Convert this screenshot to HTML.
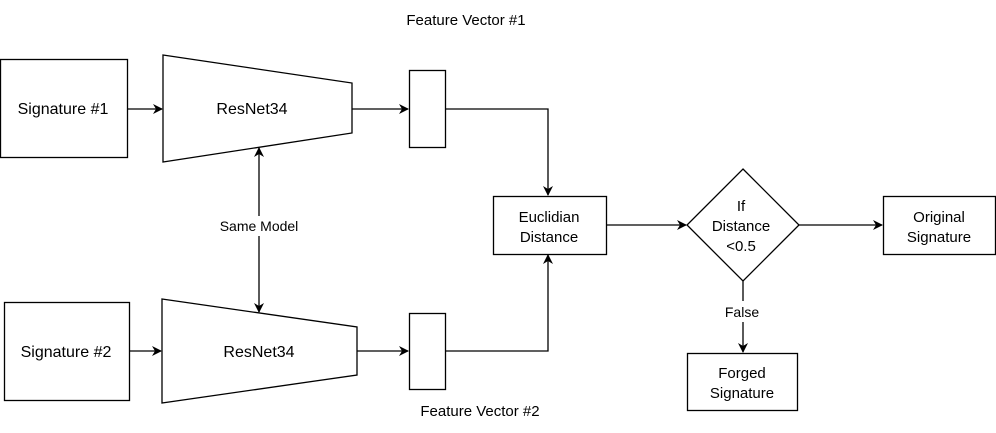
<!DOCTYPE html>
<html><head><style>
body{margin:0;background:#fff;}
svg{display:block;font-family:"Liberation Sans",Arial,sans-serif;font-size:15px;}
</style></head><body>
<svg width="996" height="433" viewBox="0 0 996 433">
<defs><marker id="a" markerWidth="10" markerHeight="10" refX="9" refY="5" orient="auto" markerUnits="userSpaceOnUse"><path d="M0,0 L10,5 L0,10 L3,5 Z" fill="#000"/></marker></defs>
<g fill="#fff" stroke="#000" stroke-width="1.3">
<rect x="0.5" y="59.5" width="127" height="98"/>
<polygon points="163,55 352,83 352,133 163,162"/>
<rect x="409.5" y="70.5" width="36" height="77"/>
<rect x="4.5" y="302.5" width="125" height="98"/>
<polygon points="162,299 357,327 357,375 162,403"/>
<rect x="409.5" y="313.5" width="36" height="76"/>
<rect x="493.5" y="196.5" width="113" height="58"/>
<polygon points="743,169 799,225 743,281 687,225"/>
<rect x="883.5" y="196.5" width="112" height="58"/>
<rect x="687.5" y="353.5" width="110" height="57"/>
</g>
<g stroke="#000" stroke-width="1.3" fill="none" marker-end="url(#a)">
<line x1="127" y1="109" x2="162" y2="109"/>
<line x1="352" y1="109" x2="408" y2="109"/>
<line x1="130" y1="351" x2="161" y2="351"/>
<line x1="357" y1="351" x2="408" y2="351"/>
<polyline points="446,109 548,109 548,195"/>
<polyline points="446,351 548,351 548,255"/>
<line x1="607" y1="225" x2="686" y2="225"/>
<line x1="799" y1="225" x2="882" y2="225"/>
<polyline points="259,216 259,148"/>
<polyline points="259,236 259,312"/>
<polyline points="743,322 743,352"/>
</g>
<line x1="743" y1="281" x2="743" y2="301" stroke="#000" stroke-width="1.3"/>
<g text-anchor="middle" fill="#000">
<text x="63" y="114" font-size="16">Signature #1</text>
<text x="252" y="114" font-size="16">ResNet34</text>
<text x="66" y="357" font-size="16">Signature #2</text>
<text x="259" y="357" font-size="16">ResNet34</text>
<text x="259" y="231" font-size="14">Same Model</text>
<text x="466" y="25" font-size="15">Feature Vector #1</text>
<text x="480" y="416" font-size="15">Feature Vector #2</text>
<text x="549" y="222" font-size="15">Euclidian</text>
<text x="549" y="242" font-size="15">Distance</text>
<text x="741" y="211" font-size="15">If</text>
<text x="741" y="231" font-size="15">Distance</text>
<text x="741" y="251" font-size="15">&lt;0.5</text>
<text x="939" y="222" font-size="15">Original</text>
<text x="939" y="242" font-size="15">Signature</text>
<text x="742" y="317" font-size="14">False</text>
<text x="742" y="378" font-size="15">Forged</text>
<text x="742" y="398" font-size="15">Signature</text>
</g>
</svg>
</body></html>
